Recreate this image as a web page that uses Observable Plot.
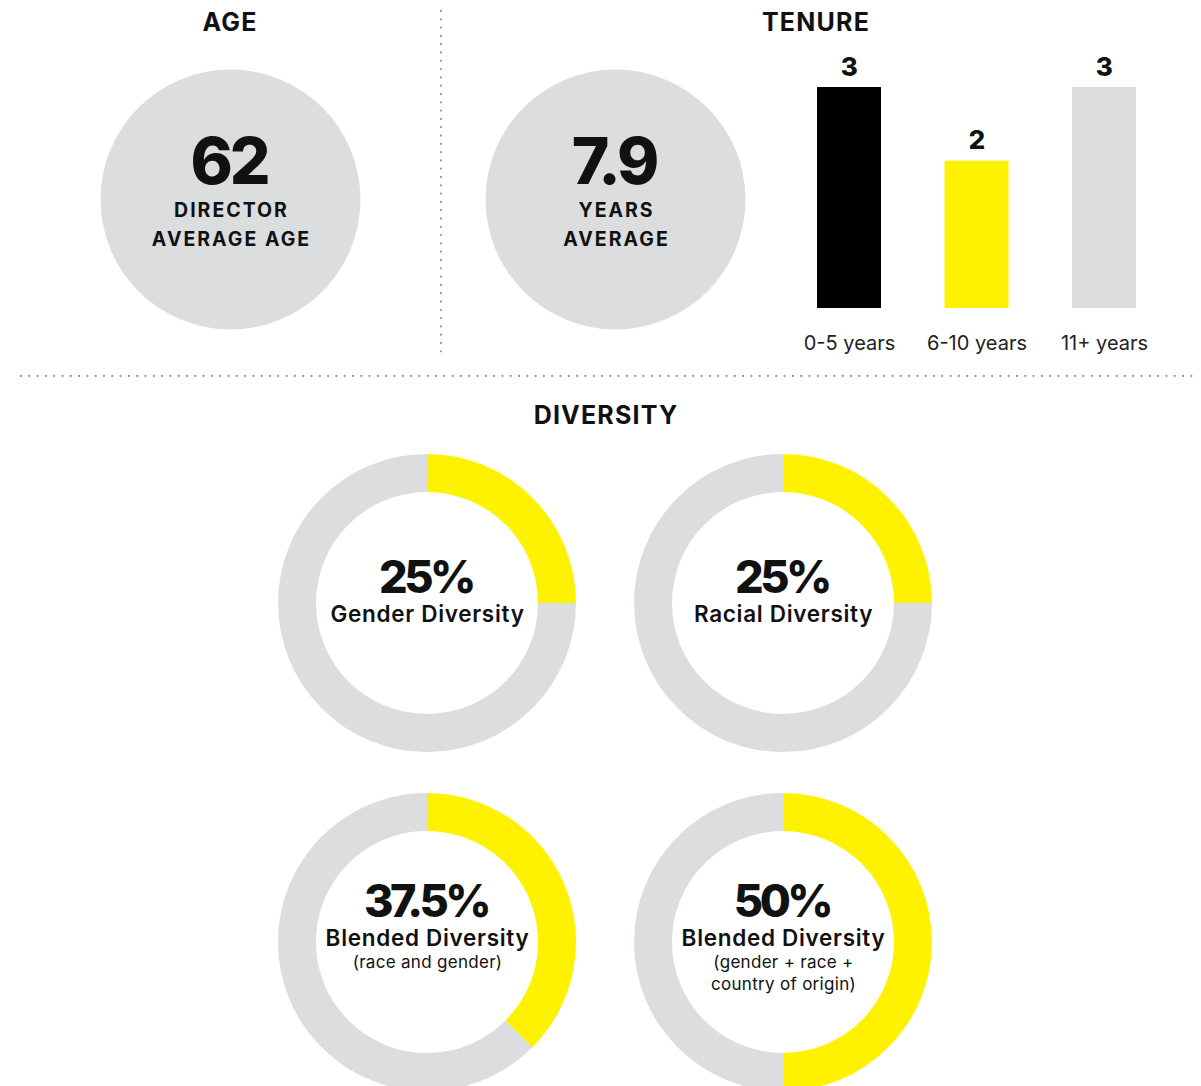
<!DOCTYPE html>
<html>
<head>
<meta charset="utf-8">
<script src="https://cdn.jsdelivr.net/npm/d3@7"></script>
<script src="https://cdn.jsdelivr.net/npm/@observablehq/plot@0.6"></script>
<style>
  body { margin: 0; background: #fff; font-family: Inter, "Noto Sans", sans-serif; }
  #page { position: relative; width: 1201px; height: 1086px; overflow: hidden; background: #fff; }
  .panel { position: absolute; }
  .title { position: absolute; font-weight: 700; font-size: 25px; line-height: 1; letter-spacing: 1.2px;
           transform: translate(-50%, -50%); color: #111; white-space: nowrap; }
  #rules { position: absolute; left: 0; top: 0; }
</style>
</head>
<body>
<div id="page"></div>
<script>
// ---------- data ----------
const sectionTitles = ["AGE", "TENURE", "DIVERSITY"];

const statKeys   = ["age", "tenure"];
const statValues = ["62", "7.9"];
const statLine1  = ["DIRECTOR", "YEARS"];
const statLine2  = ["AVERAGE AGE", "AVERAGE"];

const tenureBands  = ["0-5 years", "6-10 years", "11+ years"];
const tenureCounts = [3, 2, 3];

const diversityPct    = [25, 25, 37.5, 50];
const diversityLabels = ["Gender Diversity", "Racial Diversity", "Blended Diversity", "Blended Diversity"];
const diversityNotes  = ["", "", "(race and gender)", "(gender + race +\ncountry of origin)"];

// ---------- styles ----------
const GREY = "#dcdddf", YELLOW = "#fff200", BLACK = "#000000", INK = "#111111";
const FONT = "Inter, 'Noto Sans', sans-serif";

// render wrapper adding letter spacing to a text mark
const spaced = px => (index, scales, values, dims, context, next) => {
  const g = next(index, scales, values, dims, context);
  if (g) g.setAttribute("letter-spacing", px);
  return g;
};

const page = document.getElementById("page");

// dotted separators
const ns = "http://www.w3.org/2000/svg";
const rules = document.createElementNS(ns, "svg");
rules.setAttribute("id", "rules");
rules.setAttribute("width", 1201);
rules.setAttribute("height", 1086);
rules.innerHTML =
  `<line x1="441" y1="11" x2="441" y2="356" stroke="#9b9b9b" stroke-width="2.3" stroke-linecap="round" stroke-dasharray="0 8.3"/>` +
  `<line x1="21" y1="376" x2="1195" y2="376" stroke="#9b9b9b" stroke-width="2.3" stroke-linecap="round" stroke-dasharray="0 8.3"/>`;
page.appendChild(rules);

// section titles
const titlePos = [[230, 22], [816, 22], [606, 415]];
sectionTitles.forEach((t, i) => {
  const d = document.createElement("div");
  d.className = "title";
  d.textContent = t;
  d.style.left = titlePos[i][0] + "px";
  d.style.top = titlePos[i][1] + "px";
  page.appendChild(d);
});

function place(node, left, top) {
  node.classList.add("panel");
  node.style.left = left + "px";
  node.style.top = top + "px";
  page.appendChild(node);
}

// ---------- stat circles ----------
const stats = statKeys.map((k, i) => ({key: k, value: statValues[i], l1: statLine1[i], l2: statLine2[i]}));
const circles = Plot.plot({
  width: 760, height: 398, margin: 0,
  x: {type: "point", domain: statKeys, range: [230, 615], padding: 0, axis: null},
  style: {background: "transparent", fontFamily: FONT},
  marks: [
    Plot.dot(stats, {x: "key", r: 130, fill: GREY}),
    Plot.text(stats, {x: "key", text: "value", dy: -36, dx: -1.5, fontSize: 64, fontWeight: 800, fill: INK, render: spaced(-3)}),
    Plot.text(stats, {x: "key", text: "l1", dy: 11, dx: 1, fontSize: 19.5, fontWeight: 700, fill: INK, render: spaced(2)}),
    Plot.text(stats, {x: "key", text: "l2", dy: 40, dx: 1, fontSize: 19.5, fontWeight: 700, fill: INK, render: spaced(2)})
  ]
});
place(circles, 0, 0);

// ---------- tenure bars ----------
const tenure = tenureBands.map((b, i) => ({band: b, count: tenureCounts[i]}));
const bars = Plot.plot({
  width: 441, height: 370, marginTop: 87, marginBottom: 62, marginLeft: 0, marginRight: 0,
  x: {domain: tenureBands, range: [31.5, 401.5], paddingInner: 0.498, paddingOuter: 0.2, round: false, label: null},
  y: {domain: [0, 3], axis: null},
  color: {domain: tenureBands, range: [BLACK, YELLOW, GREY]},
  style: {background: "transparent", fontFamily: FONT, color: "#222"},
  marks: [
    Plot.barY(tenure, {x: "band", y: "count", fill: "band"}),
    Plot.text(tenure, {x: "band", y: "count", text: "count", dy: -20, fontSize: 26, fontWeight: 800, fill: INK}),
    Plot.axisX({tickSize: 0, tickPadding: 27, fontSize: 20, label: null})
  ]
});
place(bars, 760, 0);

// ---------- diversity donuts ----------
const diversity = diversityPct.map((p, i) => ({
  pct: p, pctText: p + "%", label: diversityLabels[i], note: diversityNotes[i],
  col: i % 2, row: Math.floor(i / 2)
}));
const angle = d3.scaleLinear().domain([0, 100]).range([0, 2 * Math.PI]);
const arc = d3.arc().innerRadius(111).outerRadius(149);

const donutMark = Plot.dot(diversity, {
  x: "col", y: "row", r: 149,
  render(index, scales, values) {
    const g = d3.create("svg:g");
    for (const i of index) {
      const t = `translate(${values.x[i]},${values.y[i]})`;
      const a = angle(diversity[i].pct);
      g.append("path").attr("transform", t).attr("fill", GREY)
        .attr("d", arc({startAngle: a, endAngle: 2 * Math.PI}));
      g.append("path").attr("transform", t).attr("fill", YELLOW)
        .attr("d", arc({startAngle: 0, endAngle: a}));
    }
    return g.node();
  }
});

const plain = d => d.note === "";
const noted = d => d.note !== "";
const donuts = Plot.plot({
  width: 1201, height: 706, margin: 0,
  x: {type: "point", domain: [0, 1], range: [427, 783], padding: 0, axis: null},
  y: {type: "point", domain: [0, 1], range: [223, 562], padding: 0, axis: null},
  style: {background: "transparent", fontFamily: FONT},
  marks: [
    donutMark,
    Plot.text(diversity, {filter: plain, x: "col", y: "row", text: "pctText", dy: -25, dx: -1.5, fontSize: 45, fontWeight: 800, fill: INK, render: spaced(-3.5)}),
    Plot.text(diversity, {filter: plain, x: "col", y: "row", text: "label", dy: 11, fontSize: 22.5, fontWeight: 600, fill: INK, render: spaced(0.7)}),
    Plot.text(diversity, {filter: noted, x: "col", y: "row", text: "pctText", dy: -40, dx: -1.5, fontSize: 45, fontWeight: 800, fill: INK, render: spaced(-3.5)}),
    Plot.text(diversity, {filter: noted, x: "col", y: "row", text: "label", dy: -4, fontSize: 22.5, fontWeight: 600, fill: INK, render: spaced(0.7)}),
    Plot.text(diversity, {filter: noted, x: "col", y: "row", text: "note", dy: 11, lineAnchor: "top", lineHeight: 1.24, fontSize: 17, fontWeight: 400, fill: INK, render: spaced(0.3)})
  ]
});
place(donuts, 0, 380);
</script>
</body>
</html>
